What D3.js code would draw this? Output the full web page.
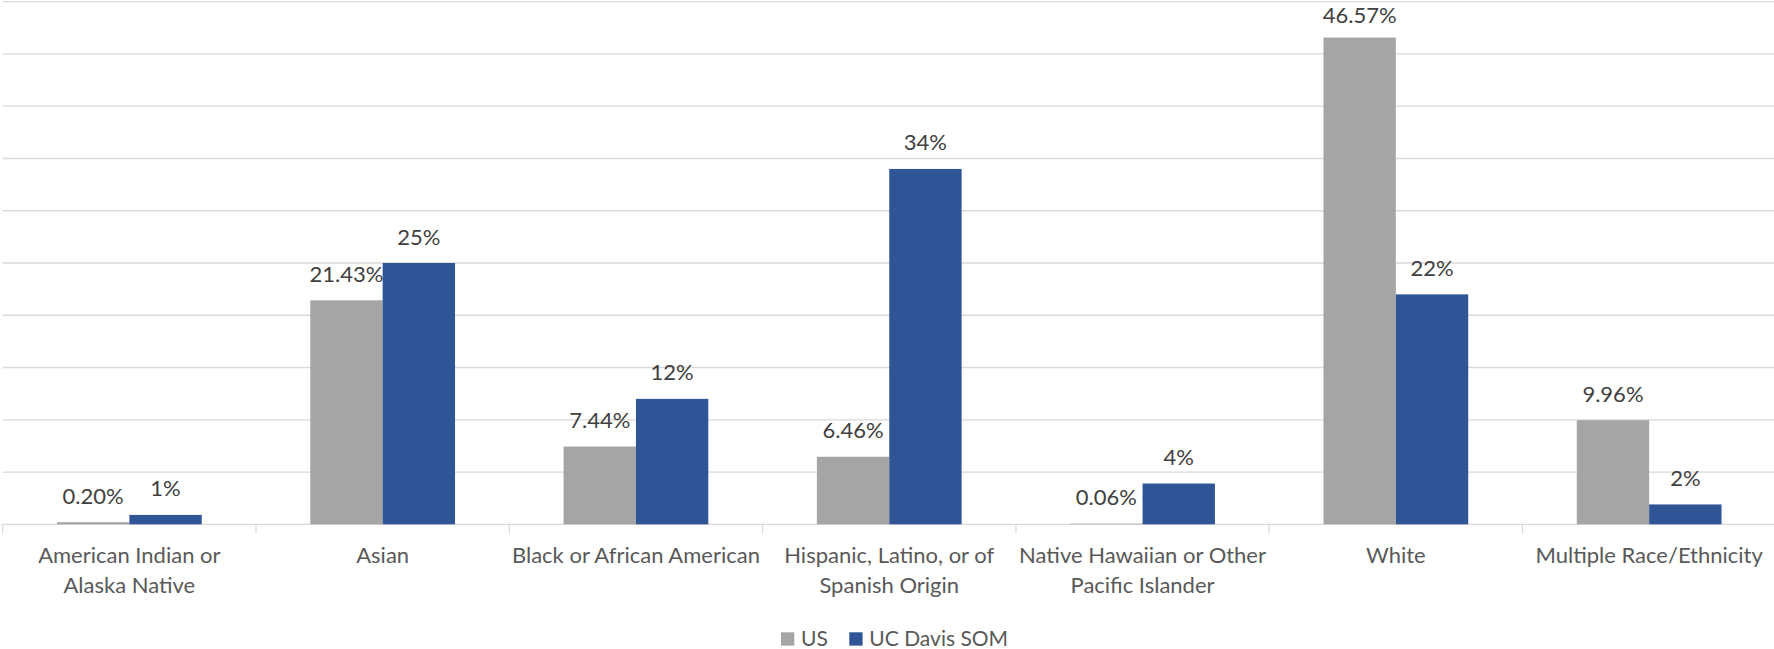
<!DOCTYPE html>
<html lang="en">
<head>
  <meta charset="UTF-8">
  <title>US vs UC Davis SOM by Race/Ethnicity</title>
  <script src="https://d3js.org/d3.v7.min.js"></script>
  <style>
    body {
      margin: 0;
      background: #fff;
      font-family: Lato, 'Open Sans', sans-serif;
    }
    svg { display: block; }
    .grid line { stroke: #d9d9d9; stroke-width: 1.3px; }
    .cat-label { fill: #595959; font-size: 22px; }
    .bar-label { fill: #404040; font-size: 22px; }
    .legend text { fill: #595959; font-size: 21px; }
  </style>
</head>
<body>
  <svg id="chart"></svg>

  <script>
    // categories (line breaks follow the wrapped axis labels)
    const categories = [
      "American Indian or\nAlaska Native",
      "Asian",
      "Black or African American",
      "Hispanic, Latino, or of\nSpanish Origin",
      "Native Hawaiian or Other\nPacific Islander",
      "White",
      "Multiple Race/Ethnicity"
    ];
    const seriesNames = ["US", "UC Davis SOM"];
    const seriesColors = ["#a5a5a5", "#2f5597"];

    // values in percent
    const usValues = [0.20, 21.43, 7.44, 6.46, 0.06, 46.57, 9.96];
    const usLabels = ["0.20%", "21.43%", "7.44%", "6.46%", "0.06%", "46.57%", "9.96%"];
    const somValues = [0.9, 25, 12, 34, 3.9, 22, 1.9];
    const somLabels = ["1%", "25%", "12%", "34%", "4%", "22%", "2%"];

    const yTicks = [0, 5, 10, 15, 20, 25, 30, 35, 40, 45, 50];

    const width = 1774, height = 649;
    const plotLeft = 2.7, plotRight = 1775.8, plotTop = 1.7, plotBottom = 524.3;

    const svg = d3.select("#chart")
      .attr("width", width)
      .attr("height", height);

    const x = d3.scaleBand()
      .domain(categories)
      .range([plotLeft, plotRight])
      .padding(0);

    const bw = x.bandwidth();
    const barW = bw / 3.5;   // gap width 150%
    const xs = d3.scaleBand()
      .domain(seriesNames)
      .range([bw / 2 - barW, bw / 2 + barW])
      .padding(0);

    const y = d3.scaleLinear()
      .domain([0, 50])
      .range([plotBottom, plotTop]);

    // gridlines
    svg.append("g")
      .attr("class", "grid")
      .selectAll("line")
      .data(yTicks)
      .enter().append("line")
      .attr("x1", plotLeft)
      .attr("x2", width)
      .attr("y1", d => y(d))
      .attr("y2", d => y(d));

    // category tick marks under the axis
    const bounds = categories.map(c => x(c)).concat([plotRight]);
    svg.append("g")
      .attr("class", "grid")
      .selectAll("line")
      .data(bounds)
      .enter().append("line")
      .attr("x1", d => d)
      .attr("x2", d => d)
      .attr("y1", plotBottom)
      .attr("y2", plotBottom + 9);

    const rows = categories.map((c, i) => ({
      cat: c,
      vals: [
        { s: seriesNames[0], v: usValues[i], label: usLabels[i] },
        { s: seriesNames[1], v: somValues[i], label: somLabels[i] }
      ]
    }));

    const groups = svg.selectAll(".group")
      .data(rows)
      .enter().append("g")
      .attr("class", "group")
      .attr("transform", d => `translate(${x(d.cat)},0)`);

    groups.selectAll("rect")
      .data(d => d.vals)
      .enter().append("rect")
      .attr("x", d => xs(d.s))
      .attr("width", xs.bandwidth())
      .attr("y", d => y(d.v))
      .attr("height", d => y(0) - y(d.v))
      .attr("fill", (d, i) => seriesColors[i]);

    // labels sit above each bar; keep the tallest one inside the picture
    groups.selectAll(".bar-label")
      .data(d => d.vals)
      .enter().append("text")
      .attr("class", "bar-label")
      .attr("text-anchor", "middle")
      .attr("x", d => xs(d.s) + xs.bandwidth() / 2)
      .attr("y", d => Math.max(y(d.v) - 18.5, 22.5))
      .text(d => d.label);

    // category labels
    groups.append("text")
      .attr("class", "cat-label")
      .attr("text-anchor", "middle")
      .attr("y", 563.3)
      .selectAll("tspan")
      .data(d => d.cat.split("\n"))
      .enter().append("tspan")
      .attr("x", bw / 2)
      .attr("dy", (d, i) => i === 0 ? 0 : 30)
      .text(d => d);

    // legend
    const legend = svg.append("g").attr("class", "legend");
    const legendX = [781, 849.3];
    seriesNames.forEach((name, i) => {
      legend.append("rect")
        .attr("x", legendX[i])
        .attr("y", 632.3)
        .attr("width", 13.3)
        .attr("height", 13.3)
        .attr("fill", seriesColors[i]);
      legend.append("text")
        .attr("x", legendX[i] + 20)
        .attr("y", 645.7)
        .text(name);
    });
  </script>
</body>
</html>
